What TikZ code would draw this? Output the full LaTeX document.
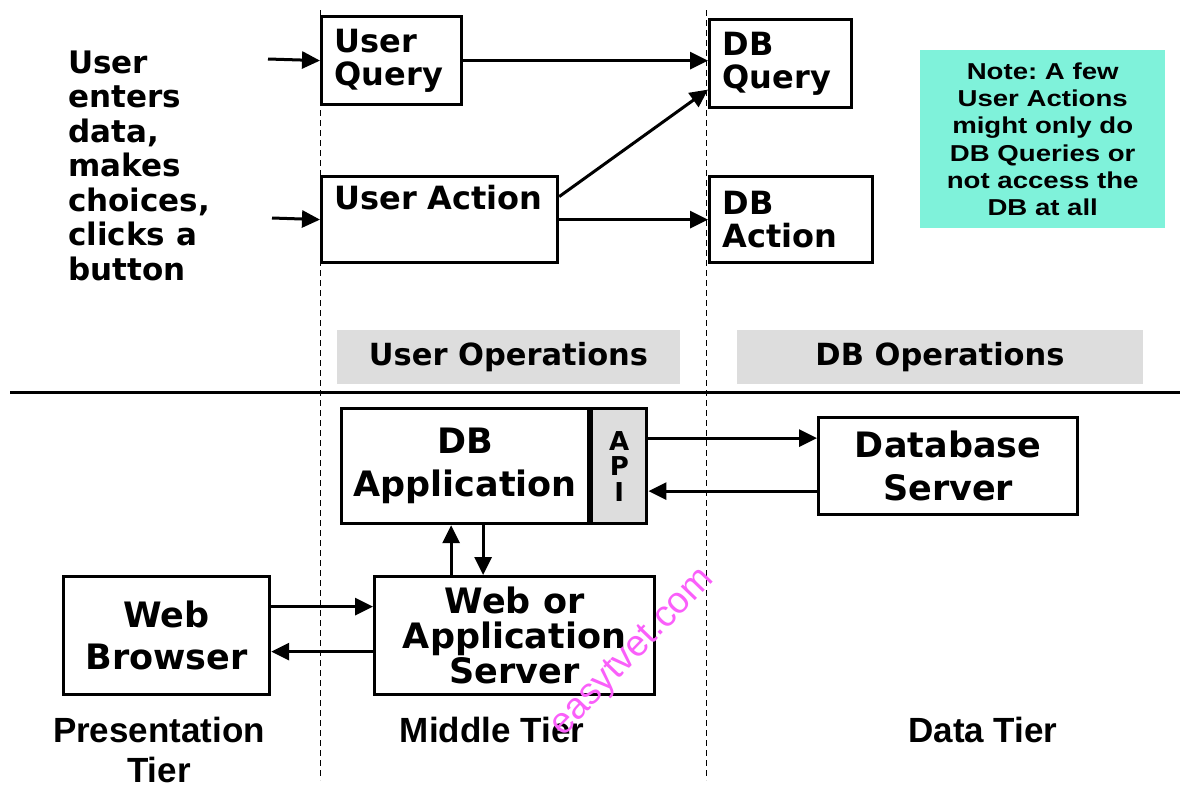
\documentclass[tikz,border=0pt]{standalone}
\usepackage{fontspec}
\setmainfont{DejaVu Sans}
\newfontfamily\tierfont{Liberation Sans}
\newfontfamily\notefont[FakeStretch=1.2]{Liberation Sans}
\usepackage{xcolor}
\usetikzlibrary{arrows.meta,positioning}
\frenchspacing

\definecolor{notegreen}{RGB}{127,242,218}
\definecolor{bargray}{RGB}{221,221,221}
\definecolor{markpink}{RGB}{250,95,250}

\begin{document}
\begin{tikzpicture}[
    x=1pt, y=-1pt,
    box/.style={draw, line width=3.2pt, fill=white, inner sep=0pt, anchor=north west, align=left, font=\bfseries\fontsize{32}{33}\selectfont},
    bigbox/.style={box, align=center, font=\bfseries\fontsize{35}{43}\selectfont},
    opsbar/.style={fill=bargray, minimum width=#1, minimum height=54pt, inner sep=0pt, font=\bfseries\fontsize{30.5}{32}\selectfont},
    tier/.style={anchor=north, inner sep=0pt, align=center, font=\tierfont\bfseries\fontsize{35}{40}\selectfont},
    arrow/.style={-{Triangle[length=18pt,width=17pt]}, line width=3pt},
    tierline/.style={dash pattern=on 6pt off 4pt, line width=1pt}
]
    \useasboundingbox (0,0) rectangle (1180,785);

    % Tier borders and the rule between the two halves
    \draw[tierline] (320,10) -- (320,780);
    \draw[tierline] (706,10) -- (706,780);
    \draw[line width=3pt] (10,392) -- (1180,392);

    % Upper half: operations
    \node[anchor=north west, inner sep=0pt, align=left, font=\bfseries\fontsize{31}{34.5}\selectfont] (user) at (68,50.5)
        {User\\enters\\data,\\makes\\choices,\\clicks a\\button};
    \node[box, minimum width=140pt, minimum height=88pt, text width=114pt] (uq) at (320,15) {User\\Query};
    \node[box, minimum width=236pt, minimum height=86pt, text width=210pt, text depth=45pt] (ua) at (320,175) {User Action};
    \node[box, minimum width=142pt, minimum height=88pt, text width=116pt] (dq) at (708,18) {DB\\Query};
    \node[box, minimum width=163pt, minimum height=86pt, text width=137pt] (da) at (708,175) {DB\\Action};
    \node[fill=notegreen, anchor=north west, minimum width=245pt, minimum height=178pt, inner sep=0pt, align=center,
        font=\notefont\bfseries\fontsize{23}{27.2}\selectfont] (note) at (920,50)
        {Note: A few\\User Actions\\might only do\\DB Queries or\\not access the\\DB at all};

    \node[opsbar=343pt] (uops) at (508.5,357) {User Operations};
    \node[opsbar=406pt] (dbops) at (940,357) {DB Operations};

    % Lower half: tiers
    \node[bigbox, minimum width=247pt, minimum height=115pt] (dbapp) at (340,407) {DB\\Application};
    \node[box, fill=bargray, right=0pt of dbapp, minimum width=55pt, minimum height=115pt, align=center,
        font=\bfseries\fontsize{26}{25.5}\selectfont] (api) {A\\P\\I};
    \node[bigbox, minimum width=259pt, minimum height=97pt] (dbs) at (817,416) {Database\\Server};
    \node[bigbox, minimum width=206pt, minimum height=118pt, font=\bfseries\fontsize{35}{42}\selectfont] (wb) at (62,575) {Web\\Browser};
    \node[bigbox, minimum width=280pt, minimum height=118pt, font=\bfseries\fontsize{35}{35}\selectfont] (was) at (373,575) {Web or\\Application\\Server};

    \node[tier] (ptier) at (159,717) {Presentation\\Tier};
    \node[tier] (mtier) at (492,717) {Middle Tier};
    \node[tier] (dtier) at (983,717) {Data Tier};

    % Arrows
    \coordinate (qin) at (268,59);
    \coordinate (ain) at (272,218);
    \draw[arrow] (qin) -- (uq.west);
    \draw[arrow] (ain) -- (ua.west);
    \draw[arrow] (uq.east) -- (uq.east -| dq.west);
    \draw[arrow] ([yshift=23pt]ua.east) -- ([yshift=-26pt]dq.west);
    \draw[arrow] (ua.east) -- (da.west);

    \draw[arrow] ([yshift=28pt]api.east) -- ([yshift=28pt]api.east -| dbs.west);
    \draw[arrow] ([yshift=-25pt]dbs.west) -- ([yshift=-25pt]dbs.west -| api.east);
    \draw[arrow] ([xshift=-14pt]dbapp.south |- was.north) -- ([xshift=-14pt]dbapp.south);
    \draw[arrow] ([xshift=18pt]dbapp.south) -- ([xshift=18pt]dbapp.south |- was.north);
    \draw[arrow] ([yshift=29pt]wb.east) -- ([yshift=29pt]wb.east -| was.west);
    \draw[arrow] ([yshift=-16pt]was.west) -- ([yshift=-16pt]was.west -| wb.east);

    % Watermark
    \node[rotate=46, text=markpink, inner sep=0pt, font=\tierfont\fontsize{37}{37}\selectfont] (mark) at (633,653) {easytvet.com};

\end{tikzpicture}
\end{document}
